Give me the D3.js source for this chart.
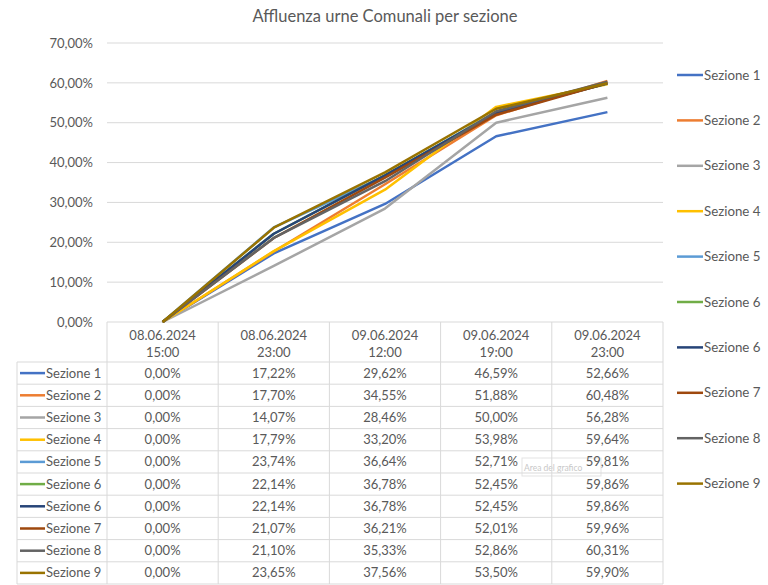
<!DOCTYPE html>
<html><head><meta charset="utf-8">
<script src="https://cdn.jsdelivr.net/npm/d3@7"></script>
<style>
html,body{margin:0;padding:0;background:#fff;}
svg text{font-family:Lato,"Open Sans",sans-serif;fill:#595959;}
</style></head>
<body><svg id="c" width="768" height="585"></svg>
<script>
const title = "Affluenza urne Comunali per sezione";
const categories = ["08.06.2024 15:00","08.06.2024 23:00","09.06.2024 12:00","09.06.2024 19:00","09.06.2024 23:00"];
const seriesNames = ["Sezione 1","Sezione 2","Sezione 3","Sezione 4","Sezione 5","Sezione 6","Sezione 6","Sezione 7","Sezione 8","Sezione 9"];
const seriesColors = ["#4472C4","#ED7D31","#A5A5A5","#FFC000","#5B9BD5","#70AD47","#264478","#9E480E","#636363","#997300"];
const sez1  = [0, 0.1722, 0.2962, 0.4659, 0.5266];
const sez2  = [0, 0.1770, 0.3455, 0.5188, 0.6048];
const sez3  = [0, 0.1407, 0.2846, 0.5000, 0.5628];
const sez4  = [0, 0.1779, 0.3320, 0.5398, 0.5964];
const sez5  = [0, 0.2374, 0.3664, 0.5271, 0.5981];
const sez6a = [0, 0.2214, 0.3678, 0.5245, 0.5986];
const sez6b = [0, 0.2214, 0.3678, 0.5245, 0.5986];
const sez7  = [0, 0.2107, 0.3621, 0.5201, 0.5996];
const sez8  = [0, 0.2110, 0.3533, 0.5286, 0.6031];
const sez9  = [0, 0.2365, 0.3756, 0.5350, 0.5990];
const yTicks = [0, 0.1, 0.2, 0.3, 0.4, 0.5, 0.6, 0.7];

const values = [sez1, sez2, sez3, sez4, sez5, sez6a, sez6b, sez7, sez8, sez9];
const series = seriesNames.map((n,i)=>({name:n, color:seriesColors[i], values:values[i]}));

const loc = d3.formatLocale({decimal:",", thousands:".", grouping:[3], currency:["","€"]});
const fmt = loc.format(".2%");

const svg = d3.select("#c");
const pLeft = 107, pRight = 663, pTop = 43, pBottom = 322;
const x = d3.scaleBand().domain(categories).range([pLeft, pRight]).padding(0);
const y = d3.scaleLinear().domain([0, 0.7]).range([pBottom, pTop]);
const cx = c => x(c) + x.bandwidth()/2;

// title
svg.append("text").attr("x", 385).attr("y", 22).attr("text-anchor","middle")
  .style("font-size","16.5px").text(title);

// y axis labels
const yAxis = d3.axisLeft(y).tickValues(yTicks).tickFormat(fmt).tickSize(0).tickPadding(14);
const ga = svg.append("g").attr("transform", `translate(${pLeft},0)`).call(yAxis);
ga.select(".domain").remove();
ga.selectAll("text").style("font-size","13px").style("fill","#595959").style("font-family","Lato, sans-serif");
// gridlines
svg.append("g").selectAll("line").data(yTicks).join("line")
  .attr("x1", pLeft).attr("x2", pRight).attr("y1", d=>y(d)).attr("y2", d=>y(d))
  .attr("stroke", "#d9d9d9").attr("stroke-width", 1);

// tooltip artifact (drawn beneath the table text)
const tip = svg.append("g");
tip.append("rect").attr("x", 522).attr("y", 458).attr("width", 79).attr("height", 18)
  .attr("fill","#fff").attr("stroke","#e3e3e3");
tip.append("text").attr("x", 524).attr("y", 470.5).style("font-size","8.5px").style("fill","#c8c8c8").text("Area del grafico");

// table geometry
const rowH = 22.2;
const headTop = pBottom, headBottom = 362;
const tableBottom = headBottom + rowH*series.length;
const keyLeft = 17;
const tb = svg.append("g");
const colEdges = categories.map(c=>x(c)).concat([pRight]);
tb.selectAll("line.v").data(colEdges).join("line")
  .attr("x1", d=>d).attr("x2", d=>d).attr("y1", headTop).attr("y2", tableBottom)
  .attr("stroke","#d9d9d9");
tb.append("line").attr("x1", keyLeft).attr("x2", keyLeft).attr("y1", headBottom).attr("y2", tableBottom).attr("stroke","#d9d9d9");
const rowEdges = d3.range(series.length+1).map(i=>headBottom + i*rowH);
tb.selectAll("line.h").data(rowEdges).join("line")
  .attr("x1", keyLeft).attr("x2", pRight).attr("y1", d=>d).attr("y2", d=>d)
  .attr("stroke","#d9d9d9");

// header labels
categories.forEach(c=>{
  const parts = c.split(" ");
  tb.append("text").attr("x", cx(c)).attr("y", 340).attr("text-anchor","middle").style("font-size","13px").text(parts[0]);
  tb.append("text").attr("x", cx(c)).attr("y", 357).attr("text-anchor","middle").style("font-size","13px").text(parts[1]);
});
// rows
series.forEach((s,i)=>{
  const ym = headBottom + i*rowH + rowH/2;
  tb.append("line").attr("x1", 20).attr("x2", 45).attr("y1", ym).attr("y2", ym).attr("stroke", s.color).attr("stroke-width", 2.5);
  tb.append("text").attr("x", 46).attr("y", ym+4.5).style("font-size","13px").text(s.name);
  s.values.forEach((v,j)=>{
    tb.append("text").attr("x", cx(categories[j])).attr("y", ym+4.5).attr("text-anchor","middle").style("font-size","13px").text(fmt(v));
  });
});

// lines
const line = d3.line().x((d,i)=>cx(categories[i])).y(d=>y(d));
svg.append("g").selectAll("path").data(series).join("path")
  .attr("d", d=>line(d.values)).attr("fill","none").attr("stroke", d=>d.color)
  .attr("stroke-width", 2.5).attr("stroke-linejoin","round");

// right legend
const lg = svg.append("g");
series.forEach((s,i)=>{
  const ly = 75 + i*45.4;
  lg.append("line").attr("x1", 677).attr("x2", 703).attr("y1", ly).attr("y2", ly).attr("stroke", s.color).attr("stroke-width", 2.5);
  lg.append("text").attr("x", 704).attr("y", ly+4.5).style("font-size","13.3px").text(s.name);
});
</script></body></html>
